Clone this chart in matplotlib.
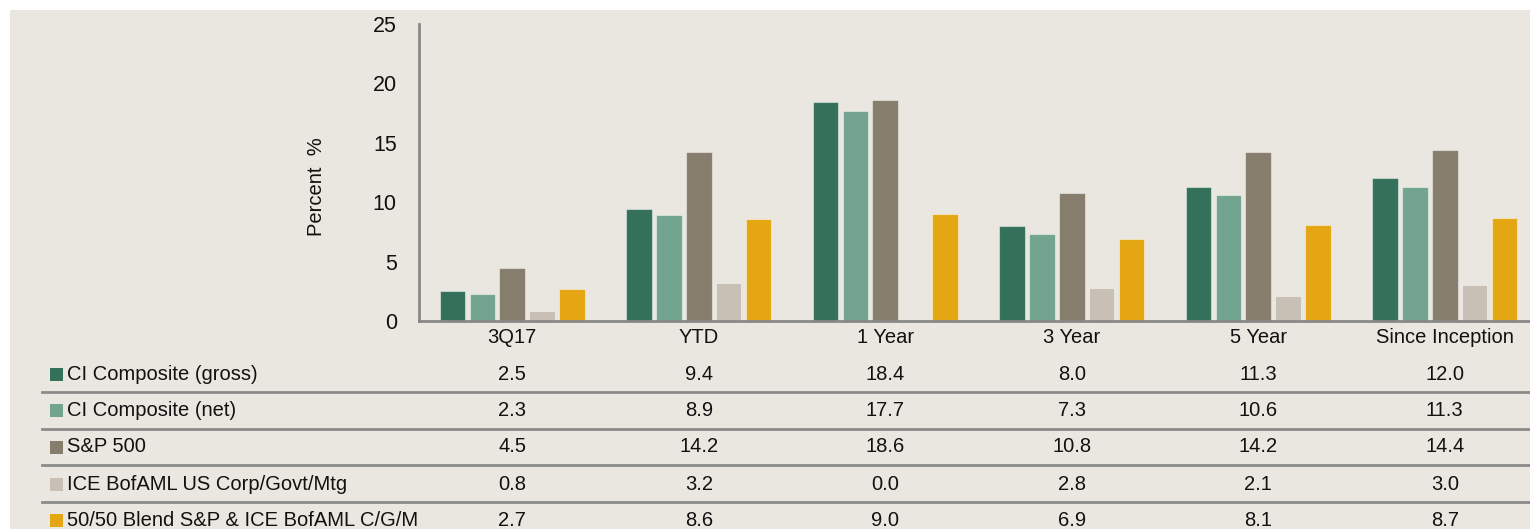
import matplotlib
matplotlib.use("Agg")
import matplotlib.pyplot as plt
import matplotlib.transforms as mtransforms
from matplotlib.patches import Rectangle
import numpy as np

plt.rcParams["font.family"] = ["Liberation Sans", "DejaVu Sans"]

periods = ["3Q17", "YTD", "1 Year", "3 Year", "5 Year", "Since Inception"]
series = [
    "CI Composite (gross)",
    "CI Composite (net)",
    "S&P 500",
    "ICE BofAML US Corp/Govt/Mtg",
    "50/50 Blend S&P & ICE BofAML C/G/M",
]
gross = [2.5, 9.4, 18.4, 8.0, 11.3, 12.0]
net = [2.3, 8.9, 17.7, 7.3, 10.6, 11.3]
sp500 = [4.5, 14.2, 18.6, 10.8, 14.2, 14.4]
ice = [0.8, 3.2, 0.0, 2.8, 2.1, 3.0]
blend = [2.7, 8.6, 9.0, 6.9, 8.1, 8.7]
values = [gross, net, sp500, ice, blend]
colors = ["#33715A", "#72A48F", "#877D6C", "#C8C0B5", "#E5A614"]

bg = "#EAE7E0"
fs = 14.5
W, H = 1530, 529
fig = plt.figure(figsize=(W / 100, H / 100), dpi=100)
fig.patch.set_facecolor("white")
fig.patches.append(Rectangle((10 / W, 0), 1, 1 - 10 / H, transform=fig.transFigure,
                             facecolor=bg, edgecolor="none", zorder=-10))

x0, x1 = 419, 1538
ytop, ybot = 24, 321
ax = fig.add_axes([x0 / W, 1 - ybot / H, (x1 - x0) / W, (ybot - ytop) / H])
ax.set_facecolor("none")

x = np.arange(len(periods))
pitch, bw = 0.16, 0.137
for i, (vals, c) in enumerate(zip(values, colors)):
    ax.bar(x + (i - 2) * pitch, vals, width=bw, color=c,
           edgecolor=(1, 1, 1, 0.45), linewidth=0.8, zorder=2)

ax.set_xlim(-0.5, len(periods) - 0.5)
ax.set_ylim(0, 25)
ax.set_yticks(range(0, 26, 5))
ax.tick_params(axis="y", length=0, pad=16, labelsize=fs + 1, labelcolor="#111111")
ax.tick_params(axis="x", length=0, pad=5, labelsize=fs, labelcolor="#111111")
ax.set_xticks(x)
ax.set_xticklabels(periods)
for s in ["top", "right"]:
    ax.spines[s].set_visible(False)
for s in ["left", "bottom"]:
    ax.spines[s].set_color("#888888")
    ax.spines[s].set_linewidth(2)

fig.text(316 / W, 1 - 187 / H, "Percent  %", rotation=90, ha="center", va="center",
         fontsize=fs, color="#111111")

# data table under the chart
trans = mtransforms.blended_transform_factory(ax.transData, fig.transFigure)
row_y = [374, 410.5, 447, 484, 520]
for name, vals, c, yy in zip(series, values, colors, row_y):
    yf = 1 - yy / H
    fig.patches.append(Rectangle((50 / W, yf - 6.5 / H), 13 / W, 13 / H,
                                 transform=fig.transFigure, facecolor=c,
                                 edgecolor="none", zorder=3))
    fig.text(67 / W, yf, name, ha="left", va="center", fontsize=fs, color="#111111")
    for xi, v in zip(x, vals):
        fig.text(xi, yf, f"{v:.1f}", transform=trans, ha="center", va="center",
                 fontsize=fs, color="#111111")

for ly in [392, 428.5, 465, 502]:
    fig.add_artist(plt.Line2D([42 / W, 1], [1 - ly / H] * 2, transform=fig.transFigure,
                              color="#8A8A8A", linewidth=2))

plt.savefig("out.png", dpi=100, facecolor=fig.get_facecolor())
